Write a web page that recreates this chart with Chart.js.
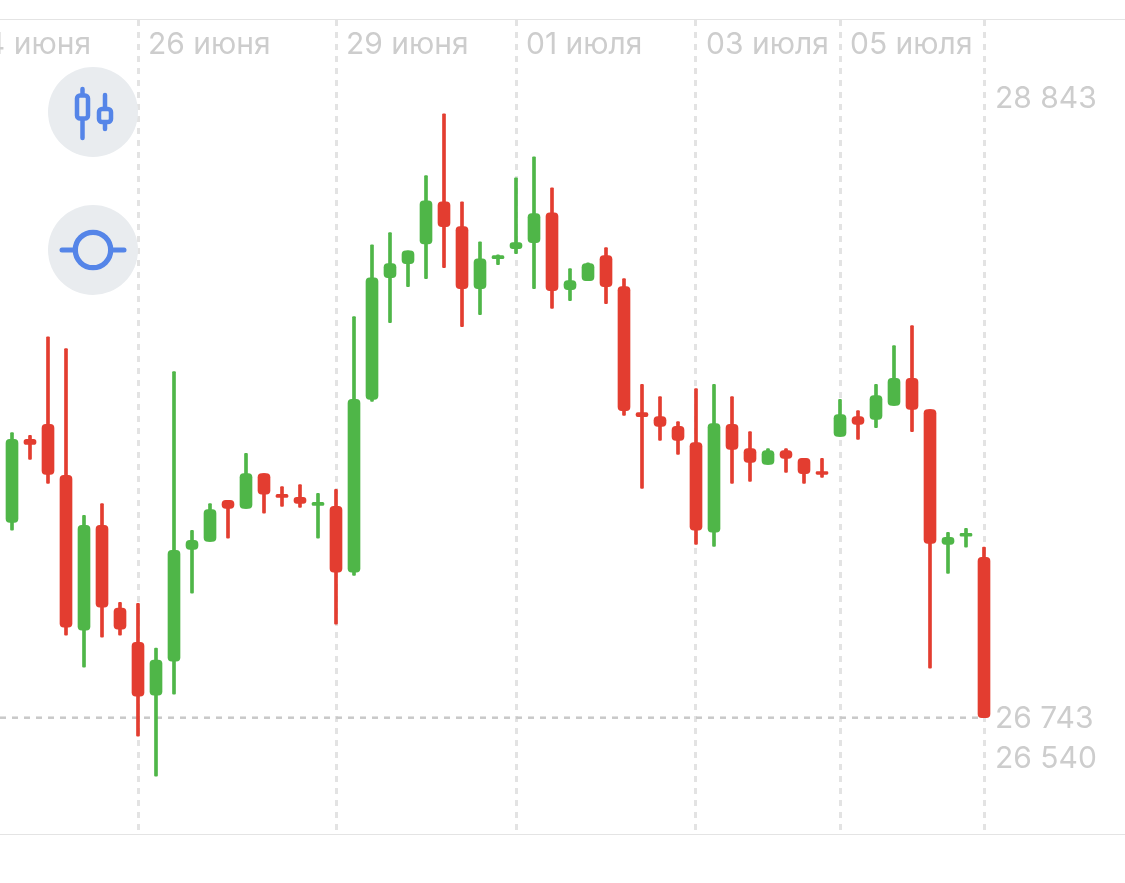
<!DOCTYPE html>
<html lang="ru">
<head>
<meta charset="utf-8">
<title>Свечной график</title>
<script src="https://cdn.jsdelivr.net/npm/chart.js@4/dist/chart.umd.min.js"></script>
<style>
    html, body { margin: 0; padding: 0; background: #fff; overflow: hidden; }
    #wrap { position: relative; width: 1125px; height: 883px; }
    #price-chart { position: absolute; left: 0; top: 0; }
    .rule { position: absolute; left: 0; width: 1125px; height: 1px; background: #e4e4e4; }
    .tool { position: absolute; left: 48px; width: 90px; height: 90px; }
</style>
</head>
<body>
<div id="wrap">
    <div class="rule" style="top:19px"></div>
    <div class="rule" style="top:834px"></div>
    <canvas id="price-chart" width="1125" height="883"></canvas>
    <!-- candle / line mode buttons -->
    <svg class="tool" style="top:67px" viewBox="0 0 90 90">
        <circle cx="45" cy="45" r="45" fill="#e9ecef"/>
        <g stroke="#5585e8" stroke-linecap="round" fill="#e9ecef">
            <line x1="34.5" y1="22" x2="34.5" y2="71" stroke-width="4.5"/>
            <rect x="29" y="28.5" width="11" height="23" rx="3" stroke-width="4.5"/>
            <line x1="57" y1="28" x2="57" y2="62" stroke-width="4.5"/>
            <rect x="51" y="42" width="12" height="13" rx="3" stroke-width="4.5"/>
        </g>
    </svg>
    <svg class="tool" style="top:205px" viewBox="0 0 90 90">
        <circle cx="45" cy="45" r="45" fill="#e9ecef"/>
        <g stroke="#5585e8" fill="none">
            <circle cx="45" cy="45" r="17.7" stroke-width="5.3"/>
            <line x1="14" y1="45" x2="27" y2="45" stroke-width="5" stroke-linecap="round"/>
            <line x1="63" y1="45" x2="76" y2="45" stroke-width="5" stroke-linecap="round"/>
        </g>
    </svg>
</div>

<script>
// values, one entry per candle
const opens = [27422, 27711, 27763, 27586, 27047, 27412, 27124, 27005, 26821, 26940, 27328, 27356, 27499, 27471,
    27592, 27520, 27509, 27481, 27478, 27249, 27850, 28273, 28322, 28391, 28537, 28451, 28235, 28339,
    28374, 28395, 28499, 28232, 28263, 28350, 28242, 27804, 27790, 27756, 27700, 27388, 27763, 27679,
    27624, 27672, 27645, 27599, 27721, 27790, 27780, 27829, 27923, 27815, 27346, 27374, 27301];
const closes = [27711, 27693, 27589, 27058, 27412, 27127, 27051, 26818, 26943, 27325, 27360, 27467, 27471, 27592,
    27520, 27509, 27488, 27492, 27249, 27850, 28273, 28322, 28367, 28541, 28451, 28235, 28339, 28350,
    28395, 28496, 28228, 28263, 28322, 28242, 27811, 27790, 27756, 27707, 27395, 27766, 27676, 27631,
    27672, 27645, 27592, 27589, 27797, 27763, 27863, 27923, 27815, 27349, 27370, 27384, 26743];
const highs = [27735, 27725, 28068, 28027, 27447, 27488, 27144, 27141, 26985, 27947, 27395, 27488, 27499, 27662,
    27592, 27547, 27554, 27523, 27537, 28138, 28388, 28430, 28367, 28628, 28843, 28537, 28398, 28353,
    28621, 28694, 28586, 28305, 28325, 28378, 28270, 27902, 27860, 27773, 27888, 27902, 27860, 27738,
    27679, 27679, 27645, 27645, 27850, 27811, 27902, 28037, 28107, 27815, 27388, 27402, 27336];
const lows = [27395, 27641, 27558, 27030, 26919, 27023, 27030, 26679, 26540, 26825, 27176, 27356, 27367, 27471,
    27454, 27478, 27474, 27367, 27068, 27238, 27843, 28117, 28242, 28270, 28308, 28103, 28145, 28319,
    28357, 28235, 28166, 28193, 28263, 28183, 27794, 27540, 27707, 27659, 27346, 27339, 27558, 27565,
    27624, 27596, 27558, 27579, 27721, 27711, 27752, 27829, 27738, 26915, 27245, 27336, 26743];

// date ticks: candle index and caption (the first one starts off screen)
const dateTickIndex = [-3, 7, 18, 28, 38, 46, 54];
const dateTickLabels = ['24 июня', '26 июня', '29 июня', '01 июля', '03 июля', '05 июля', ''];

// price ticks
const maxPrice = 28843;
const minPrice = 26540;
const lastPrice = 26743;

const GREEN = '#4fb648';
const RED = '#e33d30';
const TEXT = '#cdcdcd';
const FONT = { family: 'Inter', size: 30 };

const candleIndex = opens.map((_, i) => i);
const candleColor = (ctx) => closes[ctx.dataIndex] >= opens[ctx.dataIndex] ? GREEN : RED;
const formatPrice = (v) => String(v).slice(0, 2) + ' ' + String(v).slice(2);

const xRange = { min: -2 / 3, max: 54.5 };
const yRange = { min: 26338.5, max: 29169.5 };

// one right-hand axis per price label, each label has its own offset from its level
function priceAxis(price, labelOffset, weight, width) {
    return {
        position: 'right',
        weight: weight,
        min: yRange.min,
        max: yRange.max,
        grid: { display: false, drawTicks: false },
        border: { display: false },
        ticks: {
            autoSkip: false,
            padding: 2,
            labelOffset: labelOffset,
            color: TEXT,
            font: FONT,
            callback: formatPrice
        },
        afterBuildTicks: (scale) => { scale.ticks = [{ value: price }]; },
        afterFit: (scale) => { scale.width = width; }
    };
}

// zero width axes would clip their label, open them up once placed
const openPriceAxes = {
    id: 'openPriceAxes',
    afterLayout(chart) {
        chart.scales.yLast.right = chart.width;
        chart.scales.yMin.right = chart.width;
    }
};

new Chart(document.getElementById('price-chart'), {
    type: 'bar',
    plugins: [openPriceAxes],
    data: {
        datasets: [
            {
                label: 'Тело',
                data: candleIndex.map(i => ({ x: i, y: [opens[i], closes[i]] })),
                backgroundColor: candleColor,
                barThickness: 12,
                borderRadius: 4,
                borderSkipped: false,
                grouped: false,
                order: 1
            },
            {
                label: 'Тень',
                data: candleIndex.map(i => ({ x: i, y: [lows[i], highs[i]] })),
                backgroundColor: candleColor,
                barThickness: 3,
                borderRadius: 1,
                borderSkipped: false,
                grouped: false,
                order: 2
            },
            {
                type: 'line',
                label: 'Последняя цена',
                data: [{ x: xRange.min, y: lastPrice }, { x: candleIndex.length - 1, y: lastPrice }],
                borderColor: '#c9c9c9',
                borderWidth: 2.5,
                borderDash: [6, 6],
                pointRadius: 0,
                order: 3
            }
        ]
    },
    options: {
        responsive: false,
        animation: false,
        layout: { padding: { top: 19, bottom: 49, left: 0, right: 0 } },
        plugins: { legend: { display: false }, tooltip: { enabled: false } },
        scales: {
            x: {
                type: 'linear',
                position: 'top',
                offset: false,
                min: xRange.min,
                max: xRange.max,
                grid: { offset: false, color: '#e3e3e3', lineWidth: 3, drawTicks: false },
                border: { display: false, dash: [6, 6] },
                ticks: {
                    autoSkip: false,
                    maxRotation: 0,
                    align: 'start',
                    mirror: true, // keeps the label from being clipped to the zero height axis
                    labelOffset: 10,
                    padding: 7,
                    color: TEXT,
                    font: FONT,
                    callback: (v) => dateTickLabels[dateTickIndex.indexOf(v)]
                },
                afterBuildTicks: (scale) => { scale.ticks = dateTickIndex.map(v => ({ value: v })); },
                afterFit: (scale) => { scale.height = 0; scale.paddingLeft = 0; scale.paddingRight = 0; }
            },
            y: priceAxis(maxPrice, -14.5, 0, 132),
            yMin: priceAxis(minPrice, -17, -1, 0),
            yLast: priceAxis(lastPrice, 1, -2, 0)
        }
    }
});
</script>
</body>
</html>
